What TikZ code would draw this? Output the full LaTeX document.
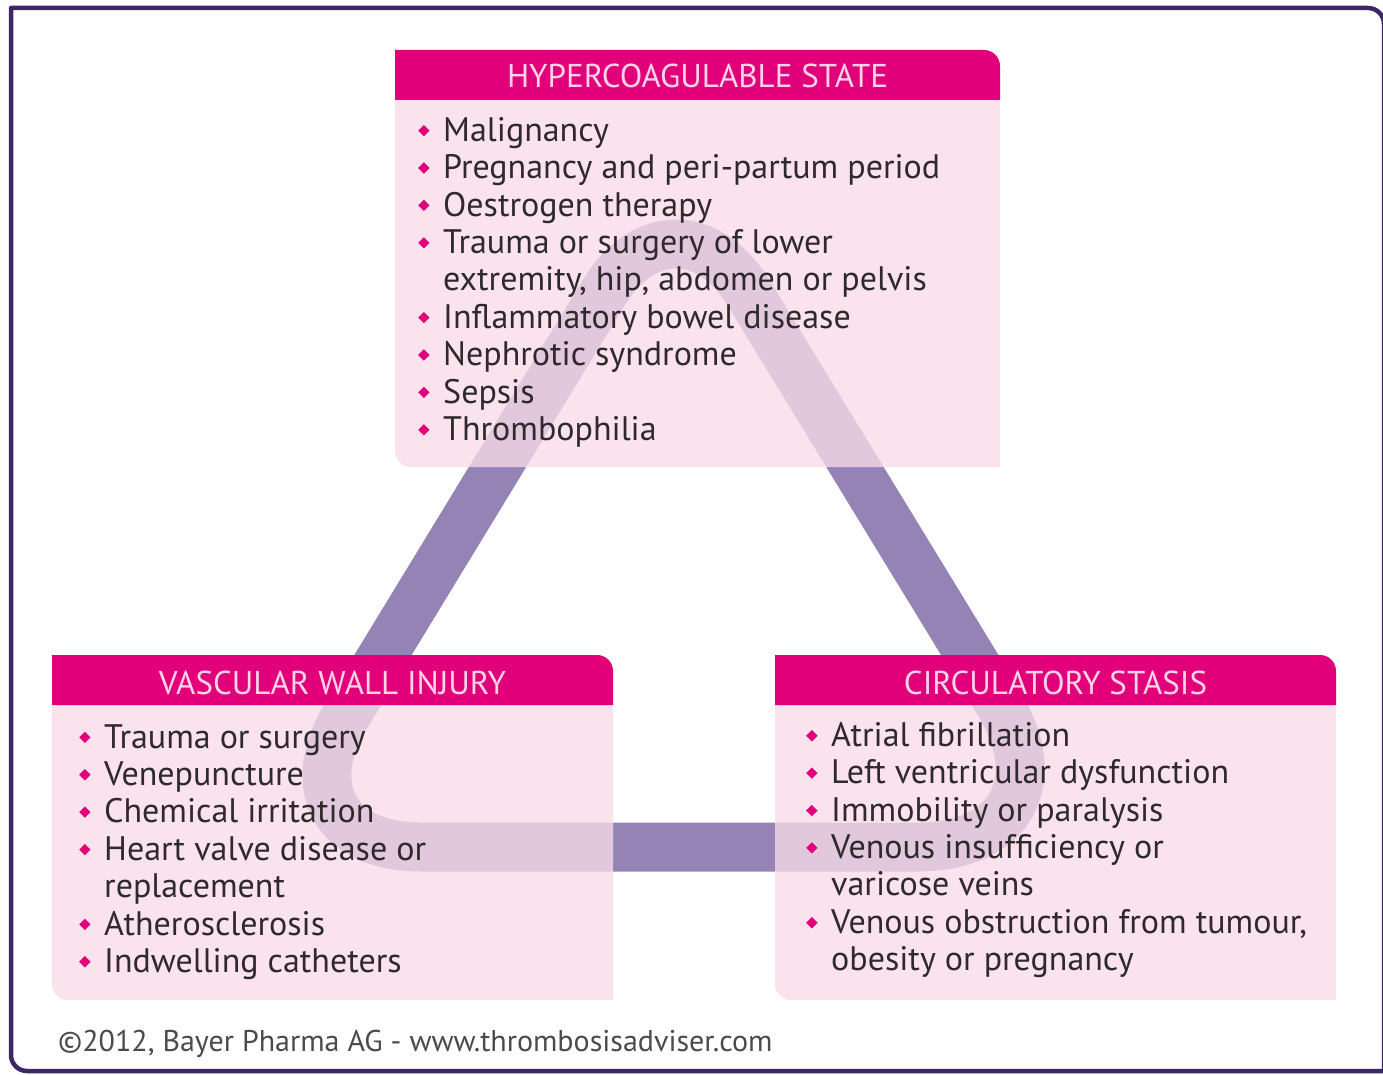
\documentclass[tikz,border=0pt]{standalone}
\usepackage{fontspec}
\setmainfont{PT Sans}
\usetikzlibrary{calc}

\definecolor{mag}{HTML}{E2007A}
\definecolor{boxpink}{HTML}{F9DCE9}
\definecolor{bandpurple}{HTML}{9483B4}
\definecolor{framepurple}{HTML}{3D2766}
\definecolor{headtext}{HTML}{FDD3E8}
\definecolor{itemtext}{HTML}{2E2A2C}
\definecolor{foottext}{HTML}{4B4B4B}

\newcommand\bul{\makebox[25pt][l]{\textcolor{mag}{\raisebox{5pt}{\rotatebox{45}{\rule{8pt}{8pt}}}}}}
\newcommand\cont{\hspace*{25pt}}

\begin{document}
\begin{tikzpicture}[
    x=1pt, y=-1pt,
    line join=round,
    frame/.style={draw=framepurple, line width=4.5pt},
    band/.style={draw=bandpurple, line width=49pt},
    body/.style={fill=boxpink, fill opacity=0.78},
    head/.style={fill=mag},
    headlab/.style={text=headtext, font=\fontsize{33}{36}\selectfont, inner sep=0, anchor=base},
    list/.style={text=itemtext, font=\fontsize{34}{37.4}\selectfont, align=left, inner sep=0, anchor=north west},
    foot/.style={text=foottext, font=\fontsize{30}{34}\selectfont, inner sep=0, anchor=base west}
]
\useasboundingbox (0,0) rectangle (1383,1075);
\fill[white] (0,0) rectangle (1383,1075);

% outer frame
\draw[frame] (11,8) -- (1368,8) arc[start angle=-90, end angle=0, radius=16]
  -- (1384,1071) -- (27,1071) arc[start angle=90, end angle=180, radius=16] -- cycle;

% triangle behind the boxes
\coordinate (apex) at (676,174);
\coordinate (bl) at (266,847);
\coordinate (br) at (1087,847);
\draw[band] ($(bl)!0.5!(br)$) [rounded corners=170pt] -- (br)
  [rounded corners=140pt] -- (apex) [rounded corners=155pt] -- (bl) -- cycle;

\begin{scope}[shift={(395,50)}]
  \fill[body] (0,50) -- (605,50) -- (605,417) -- (16,417)
    arc[start angle=90, end angle=180, radius=16] -- cycle;
  \fill[head] (0,0) -- (589,0) arc[start angle=-90, end angle=0, radius=16]
    -- (605,50) -- (0,50) -- cycle;

  \node[headlab] (hyperhead) at (302.5,38) {HYPERCOAGULABLE STATE};

  \node[list] (hyperlist) at (23,67) {%
    \bul Malignancy\\
    \bul Pregnancy and peri-partum period\\
    \bul Oestrogen therapy\\
    \bul Trauma or surgery of lower\\
    \cont extremity, hip, abdomen or pelvis\\
    \bul Inflammatory bowel disease\\
    \bul Nephrotic syndrome\\
    \bul Sepsis\\
    \bul Thrombophilia};
\end{scope}

\begin{scope}[shift={(52,655)}]
  \fill[body] (0,50) -- (561,50) -- (561,345) -- (16,345)
    arc[start angle=90, end angle=180, radius=16] -- cycle;
  \fill[head] (0,0) -- (545,0) arc[start angle=-90, end angle=0, radius=16]
    -- (561,50) -- (0,50) -- cycle;

  \node[headlab] (vasculhead) at (280.5,39) {VASCULAR WALL INJURY};

  \node[list] (vasculist) at (27,69) {%
    \bul Trauma or surgery\\
    \bul Venepuncture\\
    \bul Chemical irritation\\
    \bul Heart valve disease or\\
    \cont replacement\\
    \bul Atherosclerosis\\
    \bul Indwelling catheters};
\end{scope}

\begin{scope}[shift={(775,655)}]
  \fill[body] (0,50) -- (561,50) -- (561,345) -- (16,345)
    arc[start angle=90, end angle=180, radius=16] -- cycle;
  \fill[head] (0,0) -- (545,0) arc[start angle=-90, end angle=0, radius=16]
    -- (561,50) -- (0,50) -- cycle;

  \node[headlab] (stasishead) at (280.5,39) {CIRCULATORY STASIS};

  \node[list] (stasislist) at (31,67) {%
    \bul Atrial fibrillation\\
    \bul Left ventricular dysfunction\\
    \bul Immobility or paralysis\\
    \bul Venous insufficiency or\\
    \cont varicose veins\\
    \bul Venous obstruction from tumour,\\
    \cont obesity or pregnancy};
\end{scope}

\node[foot] (credit) at (58,1051) {©2012, Bayer Pharma AG - www.thrombosisadviser.com};

\end{tikzpicture}
\end{document}
